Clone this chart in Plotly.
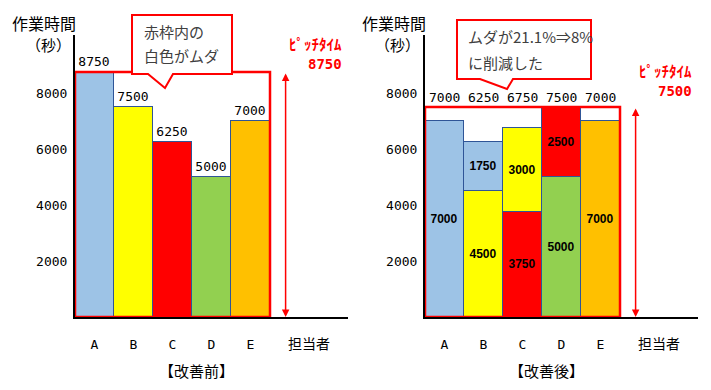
import plotly.graph_objects as go

# ---------------- data ----------------
categories = ["A", "B", "C", "D", "E"]
axis_label = "担当者"
before_values = [8750, 7500, 6250, 5000, 7000]
after_lower = [7000, 4500, 3750, 5000, 7000]
after_upper = [0, 1750, 3000, 2500, 0]
y_ticks = [2000, 4000, 6000, 8000]
before_title = "【改善前】"
after_title = "【改善後】"
before_note = ["赤枠内の", "白色がムダ"]
after_note = ["ムダが21.1%⇒8%", "に削減した"]
pitch_label = "ﾋﾟｯﾁﾀｲﾑ"
y_title = ["作業時間", "（秒）"]

# ---------------- styles ----------------
C_BLUE, C_YEL, C_RED, C_GRN, C_ORG = "#9DC3E6", "#FFFF00", "#FF0000", "#92D050", "#FFC000"
before_colors = [C_BLUE, C_YEL, C_RED, C_GRN, C_ORG]
lower_colors = [C_BLUE, C_YEL, C_RED, C_GRN, C_ORG]
upper_colors = [C_BLUE, C_BLUE, C_YEL, C_RED, C_ORG]
EDGE = "#2F5597"
MONO = "DejaVu Sans Mono, Noto Sans CJK JP"
JP = "Noto Sans CJK JP"
NARROW = "Liberation Sans Narrow, Arial Narrow, Liberation Sans"

OFF = 8  # page body margin
W, H = 711 - 2 * OFF, 390 - 2 * OFF
def px(x):
    return (x - OFF) / W
def py(y):
    return 1 - (y - OFF) / H

xs = list(range(len(categories)))
after_totals = [a + b for a, b in zip(after_lower, after_upper)]
before_pitch = max(before_values)
after_pitch = max(after_totals)

fig = go.Figure()

fig.add_trace(go.Bar(
    x=xs, y=before_values, xaxis="x", yaxis="y",
    marker=dict(color=before_colors, line=dict(color=EDGE, width=1)),
    text=[str(v) for v in before_values], textposition="outside",
    textfont=dict(family=MONO, size=13, color="black"), cliponaxis=False,
))
fig.add_trace(go.Bar(
    x=xs, y=after_lower, xaxis="x2", yaxis="y2",
    marker=dict(color=lower_colors, line=dict(color=EDGE, width=1)),
    text=[f"<b>{v}</b>" for v in after_lower], textposition="inside",
    insidetextanchor="middle",
    textfont=dict(family=NARROW, size=12, color="black"),
))
fig.add_trace(go.Bar(
    x=xs, y=after_upper, xaxis="x2", yaxis="y2",
    marker=dict(color=upper_colors, line=dict(color=EDGE, width=1)),
    text=[f"<b>{v}</b>" if v else "" for v in after_upper], textposition="inside",
    insidetextanchor="middle",
    textfont=dict(family=NARROW, size=12, color="black"),
))

tickvals = xs + [5.5]
ticktext = categories + [f'<span style="font-family:{JP};font-size:14px">{axis_label}</span>']

def xaxis(dom):
    return dict(domain=dom, range=[-0.5, 6.5], tickvals=tickvals, ticktext=ticktext,
                showline=True, linecolor="black", linewidth=2, showgrid=False,
                zeroline=False, ticks="", ticklabelstandoff=14,
                tickfont=dict(family=MONO, size=13, color="black"), fixedrange=True)

def yaxis(anchor):
    return dict(domain=[py(317), py(35)], range=[0, 10070], tickvals=y_ticks,
                showline=True, linecolor="black", linewidth=2, showgrid=False,
                zeroline=False, ticks="", anchor=anchor, ticklabelstandoff=3,
                tickfont=dict(family=MONO, size=13, color="black"), fixedrange=True)

shapes = []
annotations = []

# red frames
shapes.append(dict(type="rect", xref="x", yref="y", x0=-0.5, x1=4.5, y0=0, y1=before_pitch,
                   line=dict(color="red", width=2.5), layer="above"))
shapes.append(dict(type="rect", xref="x2", yref="y2", x0=-0.5, x1=4.5, y0=0, y1=after_pitch,
                   line=dict(color="red", width=2.5), layer="above"))

# callouts
def callout(pts):
    path = "M " + " L ".join(f"{px(a):.5f},{py(b):.5f}" for a, b in pts) + " Z"
    return dict(type="path", xref="paper", yref="paper", path=path,
                fillcolor="white", line=dict(color="red", width=2), layer="above")

shapes.append(callout([(132, 15), (232, 15), (232, 74), (173, 74), (165, 88), (148, 74), (132, 74)]))
shapes.append(callout([(457, 20), (591, 20), (591, 79), (513, 79), (507, 89), (480, 79), (457, 79)]))

def note(x, y, text, size=15, color="#404040", family=JP, xanchor="left", bold=False):
    annotations.append(dict(xref="paper", yref="paper", x=px(x), y=py(y), text=f"<b>{text}</b>" if bold else text,
                            showarrow=False, xanchor=xanchor, yanchor="middle",
                            font=dict(family=family, size=size, color=color)))

note(142, 31, before_note[0])
note(142, 55, before_note[1])
note(466, 37, after_note[0])
note(466, 62, after_note[1])

# y titles
for x0 in (10, 360):
    note(x0, 23, y_title[0], size=16, color="black")
    note(x0 + 38, 45, y_title[1], color="black", xanchor="center")

# bottom titles
note(196, 370, before_title, color="black", xanchor="center")
note(546, 370, after_title, color="black", xanchor="center")

# pitch labels
note(344, 43, pitch_label, size=15, color="red", xanchor="right", bold=True)
note(344, 64, str(before_pitch), size=14, color="red", family=MONO, xanchor="right", bold=True)
note(694, 70, pitch_label, size=15, color="red", xanchor="right", bold=True)
note(694, 91, str(after_pitch), size=14, color="red", family=MONO, xanchor="right", bold=True)

# arrows
for xr, yr, top in (("x", "y", before_pitch), ("x2", "y2", after_pitch)):
    annotations.append(dict(xref=xr, yref=yr, axref=xr, ayref=yr, x=4.9, y=0, ax=4.9, ay=top,
                            text="", showarrow=True, arrowside="end+start", arrowhead=2,
                            startarrowhead=2, arrowsize=1, startarrowsize=1,
                            arrowwidth=1.5, arrowcolor="red", standoff=0, startstandoff=0))

# totals above right chart
for i, t in enumerate(after_totals):
    annotations.append(dict(xref="x2", yref="y2", x=i, y=after_pitch, text=str(t),
                            showarrow=False, yanchor="bottom", yshift=0,
                            font=dict(family=MONO, size=13, color="black")))

fig.update_layout(
    width=W, height=H, margin=dict(l=0, r=0, t=0, b=0),
    paper_bgcolor="white", plot_bgcolor="white",
    barmode="stack", bargap=0, showlegend=False,
    xaxis=xaxis([px(75), px(348)]), yaxis=yaxis("x"),
    xaxis2=xaxis([px(425), px(698)]), yaxis2=yaxis("x2"),
    shapes=shapes, annotations=annotations,
)

fig.write_html("out.html")
